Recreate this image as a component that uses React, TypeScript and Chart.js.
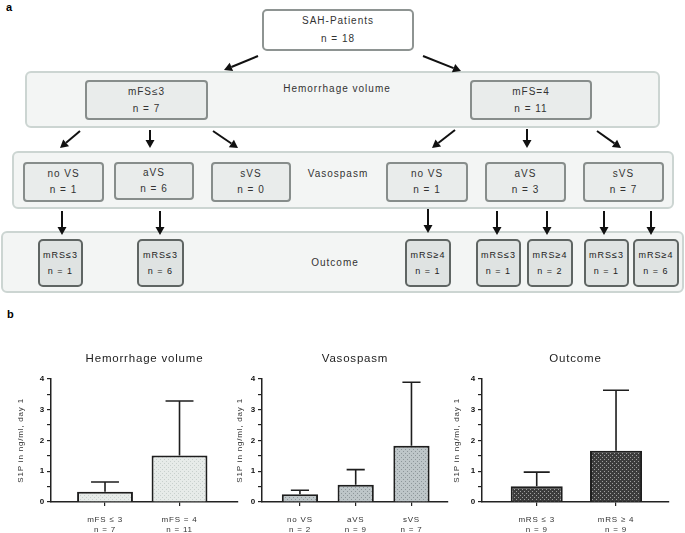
import React, { useEffect, useRef } from 'react';
import { Chart, registerables } from 'chart.js';
Chart.register(...registerables);

// ---------- data ----------
const hemLabels = [['mFS ≤ 3', 'n = 7'], ['mFS = 4', 'n = 11']];
const hemMeans = [0.33, 1.51];
const hemErrTop = [0.65, 3.28];

const vsLabels = [['no VS', 'n = 2'], ['aVS', 'n = 9'], ['sVS', 'n = 7']];
const vsMeans = [0.25, 0.56, 1.83];
const vsErrTop = [0.38, 1.05, 3.89];

const outLabels = [['mRS ≤ 3', 'n = 9'], ['mRS ≥ 4', 'n = 9']];
const outMeans = [0.51, 1.66];
const outErrTop = [0.97, 3.63];

const yAxisTitle = 'S1P in ng/ml, day 1';
const panelTitles = ['Hemorrhage volume', 'Vasospasm', 'Outcome'];

const FONT = '"Liberation Sans", Arial, Helvetica, sans-serif';

function makePattern(bg: string, dot: string, dense: boolean) {
  const c = document.createElement('canvas');
  c.width = 4;
  c.height = 4;
  const g = c.getContext('2d')!;
  g.fillStyle = bg;
  g.fillRect(0, 0, 4, 4);
  g.fillStyle = dot;
  g.fillRect(0, 0, 1, 1);
  g.fillRect(2, 2, 1, 1);
  if (dense) {
    g.fillRect(2, 0, 1, 1);
    g.fillRect(0, 2, 1, 1);
  }
  return g.createPattern(c, 'repeat');
}

const errorBarPlugin = {
  id: 'errbars',
  afterDatasetsDraw(chart: any, _args: any, opts: any) {
    const vals: number[] = opts.values || [];
    const meta = chart.getDatasetMeta(0);
    const ys = chart.scales.y;
    const ctx = chart.ctx;
    ctx.save();
    ctx.strokeStyle = '#1e1e1e';
    ctx.lineWidth = 1.6;
    meta.data.forEach((bar: any, i: number) => {
      const ty = ys.getPixelForValue(vals[i]);
      const cap = bar.width / 2;
      ctx.beginPath();
      ctx.moveTo(bar.x, bar.y);
      ctx.lineTo(bar.x, ty);
      ctx.moveTo(bar.x - cap / 2, ty);
      ctx.lineTo(bar.x + cap / 2, ty);
      ctx.stroke();
    });
    ctx.restore();
  },
};

const spacingPlugin = {
  id: 'spacing',
  beforeLayout(chart: any) {
    chart.ctx.letterSpacing = '0.8px';
  },
  beforeDraw(chart: any) {
    chart.ctx.letterSpacing = '0.8px';
  },
};

type PanelProps = {
  left: number;
  width: number;
  yWidth: number;
  title: string;
  labels: string[][];
  means: number[];
  errs: number[];
  xMin: number;
  xMax: number;
  barPct: number;
  bg: string;
  dot: string;
  dense: boolean;
};

function BarPanel(p: PanelProps) {
  const ref = useRef<HTMLCanvasElement>(null);
  useEffect(() => {
    const chart = new Chart(ref.current!, {
      type: 'bar',
      data: {
        datasets: [
          {
            data: p.means.map((v, i) => ({ x: i, y: v })) as any,
            backgroundColor: makePattern(p.bg, p.dot, p.dense) as any,
            borderColor: '#1e1e1e',
            borderWidth: 2,
            borderSkipped: 'start',
            barPercentage: p.barPct,
            categoryPercentage: 1,
          },
        ],
      },
      options: {
        responsive: false,
        animation: false,
        layout: { padding: { left: 0, right: 2, top: 0, bottom: 0 } },
        plugins: {
          legend: { display: false },
          tooltip: { enabled: false },
          title: {
            display: true,
            text: p.title,
            fullSize: false,
            color: '#222',
            font: { size: 11.5, family: FONT, weight: 'normal' },
            padding: { top: 17, bottom: 13 },
          },
          errbars: { values: p.errs },
        } as any,
        scales: {
          x: {
            type: 'linear',
            min: p.xMin,
            max: p.xMax,
            offset: false,
            grid: { display: true, offset: false, drawOnChartArea: false, tickLength: 4, color: '#222', lineWidth: 1.2 },
            border: { display: true, color: '#222', width: 1.5 },
            ticks: {
              stepSize: 1,
              includeBounds: false,
              autoSkip: false,
              maxRotation: 0,
              padding: 9,
              color: '#333',
              font: { size: 8, family: FONT },
              callback: (v: any) => {
                const i = Math.round(v);
                return Math.abs(v - i) < 1e-6 && p.labels[i] !== undefined ? p.labels[i] : '';
              },
            },
            afterFit: (s: any) => {
              s.height = 31;
            },
          } as any,
          y: {
            min: 0,
            max: 4,
            grid: { display: true, drawOnChartArea: false, tickLength: 4, color: '#222', lineWidth: 1.2 },
            border: { display: true, color: '#222', width: 1.5 },
            ticks: {
              stepSize: 0.5,
              autoSkip: false,
              padding: 2,
              color: '#111',
              font: { size: 8, family: FONT, weight: 'bold' },
              callback: (v: any) => (Number.isInteger(v) ? String(v) : ''),
            },
            title: {
              display: true,
              text: yAxisTitle,
              color: '#333',
              font: { size: 8, family: FONT },
              padding: { top: 4, bottom: 0 },
            },
            afterFit: (s: any) => {
              s.width = p.yWidth;
            },
          } as any,
        },
      },
      plugins: [errorBarPlugin, spacingPlugin],
    });
    return () => chart.destroy();
  }, []);
  return (
    <canvas
      ref={ref}
      width={p.width}
      height={198}
      style={{ position: 'absolute', left: p.left, top: 335 }}
    />
  );
}

// ---------- flowchart ----------
const txt: React.CSSProperties = {
  fontFamily: FONT,
  fontSize: 10,
  letterSpacing: '1px',
  color: '#333',
};

function Box(props: {
  x: number;
  y: number;
  w: number;
  h: number;
  lines?: string[];
  kind: 'white' | 'outer' | 'inner' | 'outcome';
  lh?: number;
  fs?: number;
}) {
  const styles: Record<string, React.CSSProperties> = {
    white: { background: '#fff', border: '2px solid #8e9492', borderRadius: 5 },
    outer: { background: '#f3f5f4', border: '2px solid #ccd5d2', borderRadius: 6 },
    inner: { background: '#e9eceb', border: '2px solid #878d8b', borderRadius: 4 },
    outcome: { background: '#dfe3e2', border: '2.5px solid #5f6563', borderRadius: 5 },
  };
  return (
    <div
      style={{
        position: 'absolute',
        left: props.x,
        top: props.y,
        width: props.w,
        height: props.h,
        boxSizing: 'border-box',
        display: 'flex',
        flexDirection: 'column',
        alignItems: 'center',
        justifyContent: 'center',
        ...styles[props.kind],
      }}
    >
      {(props.lines || []).map((l, i) => (
        <div
          key={i}
          style={{
            ...txt,
            fontSize: props.fs || 10,
            color: props.kind === 'outcome' ? '#222' : '#333',
            lineHeight: (props.lh || 17) + 'px',
            whiteSpace: 'nowrap',
          }}
        >
          {l}
        </div>
      ))}
    </div>
  );
}

function Label(props: { cx: number; cy: number; text: string }) {
  return (
    <div
      style={{
        ...txt,
        position: 'absolute',
        left: props.cx - 100,
        width: 200,
        top: props.cy - 7,
        lineHeight: '14px',
        textAlign: 'center',
        whiteSpace: 'nowrap',
      }}
    >
      {props.text}
    </div>
  );
}

const arrows: number[][] = [
  [258, 56, 224, 70],
  [423, 56, 461, 71],
  [80, 131, 60, 148],
  [150, 130, 150, 148],
  [213, 131, 238, 148],
  [455, 130, 432, 148],
  [527, 129, 527, 148],
  [597, 131, 621, 148],
  [62, 211, 62, 235],
  [160, 211, 160, 235],
  [428, 209, 428, 233],
  [497, 211, 497, 235],
  [547, 211, 547, 235],
  [604, 211, 604, 235],
  [651, 211, 651, 235],
];

function Arrow({ a }: { a: number[] }) {
  const [x1, y1, x2, y2] = a;
  const dx = x2 - x1;
  const dy = y2 - y1;
  const len = Math.hypot(dx, dy);
  const ux = dx / len;
  const uy = dy / len;
  const hl = 8;
  const hw = 4.5;
  const bx = x2 - ux * hl;
  const by = y2 - uy * hl;
  const pts = `${x2},${y2} ${bx - uy * hw},${by + ux * hw} ${bx + uy * hw},${by - ux * hw}`;
  return (
    <g>
      <line x1={x1} y1={y1} x2={bx} y2={by} stroke="#111" strokeWidth={2} />
      <polygon points={pts} fill="#111" />
    </g>
  );
}

export default function App() {
  return (
    <div
      style={{
        position: 'absolute',
        left: 0,
        top: 0,
        width: 685,
        height: 533,
        background: '#fff',
        overflow: 'hidden',
        fontFamily: FONT,
      }}
    >
      <div style={{ position: 'absolute', left: 6, top: 1, fontSize: 11, fontWeight: 'bold', fontFamily: FONT }}>a</div>
      <div style={{ position: 'absolute', left: 7, top: 308, fontSize: 11, fontWeight: 'bold', fontFamily: FONT }}>b</div>

      <Box x={262} y={9} w={152} h={42} kind="white" lines={['SAH-Patients', 'n = 18']} lh={18} />

      <Box x={25} y={71} w={635} h={57} kind="outer" />
      <Label cx={337} cy={89} text="Hemorrhage volume" />
      <Box x={85} y={80} w={123} h={40} kind="inner" lines={['mFS≤3', 'n = 7']} />
      <Box x={470} y={80} w={122} h={40} kind="inner" lines={['mFS=4', 'n = 11']} />

      <Box x={12} y={151} w={662} h={58} kind="outer" />
      <Label cx={338} cy={174} text="Vasospasm" />
      <Box x={23} y={162} w={81} h={40} kind="inner" lines={['no VS', 'n = 1']} lh={16} />
      <Box x={114} y={162} w={80} h={38} kind="inner" lines={['aVS', 'n = 6']} lh={16} />
      <Box x={211} y={162} w={80} h={40} kind="inner" lines={['sVS', 'n = 0']} lh={16} />
      <Box x={386} y={162} w={82} h={40} kind="inner" lines={['no VS', 'n = 1']} lh={16} />
      <Box x={485} y={162} w={81} h={40} kind="inner" lines={['aVS', 'n = 3']} lh={16} />
      <Box x={583} y={162} w={81} h={40} kind="inner" lines={['sVS', 'n = 7']} lh={16} />

      <Box x={1} y={231} w={683} h={62} kind="outer" />
      <Label cx={335} cy={263} text="Outcome" />
      <Box x={38} y={239} w={45} h={48} kind="outcome" lines={['mRS≤3', 'n = 1']} fs={9} lh={16} />
      <Box x={137} y={239} w={47} h={48} kind="outcome" lines={['mRS≤3', 'n = 6']} fs={9} lh={16} />
      <Box x={405} y={239} w={46} h={48} kind="outcome" lines={['mRS≥4', 'n = 1']} fs={9} lh={16} />
      <Box x={476} y={239} w={45} h={48} kind="outcome" lines={['mRS≤3', 'n = 1']} fs={9} lh={16} />
      <Box x={527} y={239} w={46} h={48} kind="outcome" lines={['mRS≥4', 'n = 2']} fs={9} lh={16} />
      <Box x={584} y={239} w={45} h={48} kind="outcome" lines={['mRS≤3', 'n = 1']} fs={9} lh={16} />
      <Box x={633} y={239} w={46} h={48} kind="outcome" lines={['mRS≥4', 'n = 6']} fs={9} lh={16} />

      <svg width={685} height={310} style={{ position: 'absolute', left: 0, top: 0 }}>
        {arrows.map((a, i) => (
          <Arrow key={i} a={a} />
        ))}
      </svg>

      <BarPanel
        left={12}
        width={228}
        yWidth={39}
        title={panelTitles[0]}
        labels={hemLabels}
        means={hemMeans}
        errs={hemErrTop}
        xMin={-0.725}
        xMax={1.785}
        barPct={0.75}
        bg="#e7ebe9"
        dot="#c8d0cd"
        dense={false}
      />
      <BarPanel
        left={231}
        width={219}
        yWidth={31}
        title={panelTitles[1]}
        labels={vsLabels}
        means={vsMeans}
        errs={vsErrTop}
        xMin={-0.68}
        xMax={2.655}
        barPct={0.65}
        bg="#bec6c9"
        dot="#8d969a"
        dense={false}
      />
      <BarPanel
        left={448}
        width={223}
        yWidth={34}
        title={panelTitles[2]}
        labels={outLabels}
        means={outMeans}
        errs={outErrTop}
        xMin={-0.69}
        xMax={1.668}
        barPct={0.656}
        bg="#3c3c3c"
        dot="#a0a0a0"
        dense={false}
      />
    </div>
  );
}
